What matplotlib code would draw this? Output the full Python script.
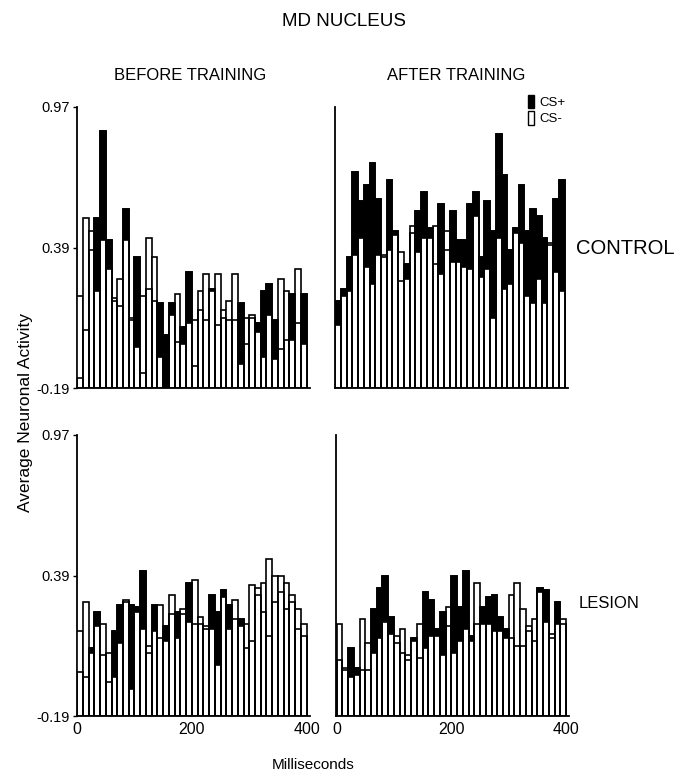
import numpy as np
import matplotlib
matplotlib.use("Agg")
import matplotlib.pyplot as plt
from matplotlib.patches import Patch

plt.rcParams['font.family'] = ['Liberation Sans', 'DejaVu Sans']

# ---- data (bins of 10 ms, 0-400 ms) ----
bin_ms = 10
n_bins = 40

cs_plus_before_control = [-0.15, 0.05, 0.38, 0.51, 0.87, 0.42, 0.17, 0.15, 0.55, 0.09,
                          0.35, -0.13, 0.22, 0.17, 0.16, 0.03, 0.16, 0.00, 0.06, 0.29,
                          -0.10, 0.13, 0.09, 0.22, 0.07, 0.10, 0.09, 0.09, 0.16, -0.01,
                          0.10, 0.08, 0.21, 0.24, 0.09, -0.03, 0.01, 0.20, 0.08, 0.20]
cs_minus_before_control = [0.19, 0.51, 0.46, 0.21, 0.42, 0.30, 0.18, 0.26, 0.42, 0.10,
                           -0.02, 0.19, 0.43, 0.35, -0.06, -0.19, 0.11, 0.20, -0.01, 0.08,
                           0.09, 0.21, 0.28, 0.21, 0.28, 0.13, 0.17, 0.28, -0.09, 0.10,
                           0.11, 0.04, -0.06, 0.11, -0.07, 0.26, 0.21, 0.01, 0.30, -0.01]

cs_plus_after_control = [0.17, 0.22, 0.35, 0.70, 0.58, 0.65, 0.74, 0.59, 0.35, 0.67,
                         0.46, 0.25, 0.32, 0.45, 0.54, 0.62, 0.47, 0.32, 0.57, 0.38,
                         0.54, 0.42, 0.42, 0.57, 0.62, 0.35, 0.58, 0.46, 0.86, 0.69,
                         0.38, 0.47, 0.65, 0.46, 0.55, 0.52, 0.43, 0.40, 0.59, 0.67]
cs_minus_after_control = [0.07, 0.19, 0.21, 0.36, 0.43, 0.31, 0.24, 0.36, 0.36, 0.38,
                          0.44, 0.37, 0.26, 0.48, 0.37, 0.43, 0.43, 0.48, 0.28, 0.46,
                          0.33, 0.33, 0.31, 0.30, 0.52, 0.27, 0.30, 0.10, 0.43, 0.22,
                          0.24, 0.45, 0.41, 0.19, 0.16, 0.26, 0.16, 0.41, 0.29, 0.21]

cs_plus_before_lesion = [-0.01, -0.03, 0.09, 0.24, 0.06, -0.05, 0.16, 0.27, 0.28, 0.27,
                         0.26, 0.41, 0.07, 0.27, 0.13, 0.18, 0.23, 0.24, 0.23, 0.36,
                         0.19, 0.19, 0.17, 0.31, 0.24, 0.33, 0.27, 0.21, 0.21, 0.09,
                         0.12, 0.31, 0.24, 0.14, 0.28, 0.32, 0.25, 0.28, 0.17, 0.14]
cs_minus_before_lesion = [0.16, 0.28, 0.07, 0.18, 0.19, 0.07, -0.03, 0.11, 0.29, -0.08,
                          0.24, 0.17, 0.10, 0.16, 0.27, 0.12, 0.31, 0.13, 0.25, 0.20,
                          0.37, 0.22, 0.18, 0.17, 0.02, 0.30, 0.17, 0.29, 0.18, 0.19,
                          0.35, 0.34, 0.36, 0.46, 0.39, 0.39, 0.36, 0.31, 0.25, 0.19]

cs_plus_after_lesion = [0.04, 0.00, 0.09, 0.01, 0.00, 0.00, 0.25, 0.34, 0.39, 0.22,
                        0.11, 0.07, 0.04, 0.13, 0.05, 0.32, 0.29, 0.17, 0.24, 0.18,
                        0.39, 0.26, 0.41, 0.14, 0.19, 0.26, 0.30, 0.31, 0.22, 0.17,
                        0.13, 0.10, 0.10, 0.16, 0.12, 0.34, 0.33, 0.13, 0.28, 0.19]
cs_minus_after_lesion = [0.19, 0.01, -0.03, -0.02, 0.21, 0.11, 0.07, 0.13, 0.20, 0.15,
                         0.14, 0.17, 0.06, 0.12, 0.19, 0.09, 0.14, 0.14, 0.06, 0.26,
                         0.07, 0.12, 0.17, 0.12, 0.36, 0.19, 0.19, 0.16, 0.16, 0.13,
                         0.31, 0.36, 0.25, 0.18, 0.21, 0.32, 0.20, 0.15, 0.19, 0.21]

y_ticks = [-0.19, 0.39, 0.97]
y_tick_labels = ["-0.19", "0.39", "0.97"]
x_ticks = [0, 200, 400]
x_tick_labels = ["0", "200", "400"]

# ---- figure ----
W, H = 688, 776
fig = plt.figure(figsize=(W / 100, H / 100), dpi=100)

def fx(px):
    return px / W

def fy(py):
    return 1 - py / H

ax_w = fx(233)
ax_h = (388 - 107) / H
positions = {
    'tl': [fx(76.5), fy(388), ax_w, ax_h],
    'tr': [fx(334.5), fy(388), ax_w, ax_h],
    'bl': [fx(76.5), fy(716), ax_w, ax_h],
    'br': [fx(336), fy(716), ax_w, ax_h],
}

panels = [
    ('tl', cs_plus_before_control, cs_minus_before_control, True, False),
    ('tr', cs_plus_after_control, cs_minus_after_control, False, False),
    ('bl', cs_plus_before_lesion, cs_minus_before_lesion, True, True),
    ('br', cs_plus_after_lesion, cs_minus_after_lesion, False, True),
]

y0 = y_ticks[0]
x = np.arange(n_bins) * bin_ms
lw = 1.2

for key, plus, minus, show_y, show_x in panels:
    ax = fig.add_axes(positions[key])
    plus = np.asarray(plus)
    minus = np.asarray(minus)
    ax.bar(x, plus - y0, bottom=y0, width=bin_ms, align='edge',
           facecolor='black', edgecolor='black', linewidth=lw, zorder=2)
    ax.bar(x, minus - y0, bottom=y0, width=bin_ms, align='edge',
           facecolor='white', edgecolor='black', linewidth=lw, zorder=3)
    ax.bar(x, plus - y0, bottom=y0, width=bin_ms, align='edge',
           facecolor='none', edgecolor='black', linewidth=lw, zorder=4)
    ax.set_xlim(-1, 405)
    ax.set_ylim(y_ticks[0], y_ticks[-1])
    for s in ['top', 'right']:
        ax.spines[s].set_visible(False)
    ax.spines['left'].set_linewidth(1.3)
    ax.spines['bottom'].set_linewidth(1.3)
    ax.set_yticks(y_ticks)
    if show_y:
        ax.set_yticklabels(y_tick_labels, fontsize=10.5)
        ax.tick_params(axis='y', length=3, width=1, pad=2)
    else:
        ax.set_yticklabels([])
        ax.tick_params(axis='y', length=0)
    ax.set_xticks(x_ticks)
    if show_x:
        ax.set_xticklabels(x_tick_labels, fontsize=11.5)
        ax.tick_params(axis='x', length=0, pad=4)
    else:
        ax.set_xticklabels([])
        ax.tick_params(axis='x', length=0)

# ---- texts ----
fig.text(0.5, fy(22), "MD NUCLEUS", ha='center', va='center', fontsize=13.5)
fig.text(fx(190), fy(75), "BEFORE TRAINING", ha='center', va='center', fontsize=12)
fig.text(fx(456), fy(75), "AFTER TRAINING", ha='center', va='center', fontsize=12)
fig.text(fx(625), fy(248), "CONTROL", ha='center', va='center', fontsize=14.5)
fig.text(fx(609), fy(603), "LESION", ha='center', va='center', fontsize=12)
fig.text(fx(26), fy(412), "Average Neuronal Activity", ha='center', va='center',
         rotation=90, fontsize=12.5)
fig.text(fx(313), fy(765), "Milliseconds", ha='center', va='center', fontsize=11)

handles = [Patch(facecolor='black', edgecolor='black', label='CS+'),
           Patch(facecolor='white', edgecolor='black', label='CS-')]
fig.legend(handles=handles, loc='upper left', bbox_to_anchor=(fx(520), fy(87)),
           frameon=False, fontsize=9.5, handlelength=0.45, handleheight=1.2,
           handletextpad=0.4, labelspacing=0.15, borderpad=0.1)

fig.savefig("out.png", dpi=100)
